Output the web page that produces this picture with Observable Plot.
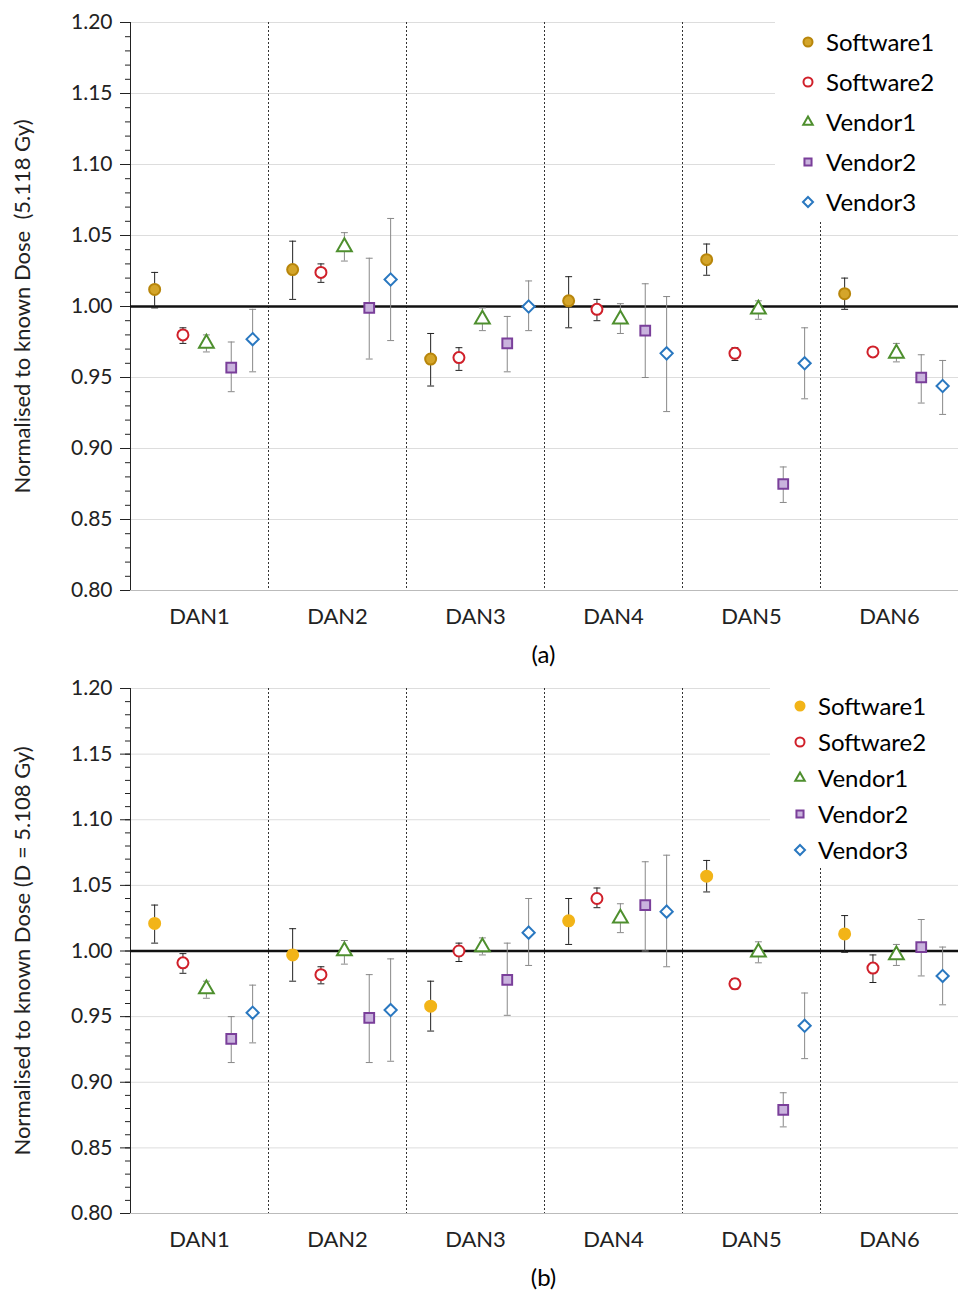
<!DOCTYPE html>
<html><head><meta charset="utf-8">
<script src="https://cdn.jsdelivr.net/npm/d3@7"></script>
<script src="https://cdn.jsdelivr.net/npm/@observablehq/plot@0.6"></script>
<style>
body{margin:0;background:#fff;font-family:Lato,"Open Sans",sans-serif}
.panel{position:relative;width:962px;height:auto}
.panel svg{display:block}
.cap{text-align:center;font-size:24px;padding-left:125px;height:28px;line-height:28px}
.legend{position:absolute;background:#fff;font-size:24px;line-height:40px}
.legend div{display:flex;align-items:center}
.legend svg{margin-right:10px}
</style></head><body>
<div id="a" class="panel"></div><div class="cap">(a)</div>
<div id="b" class="panel"></div><div class="cap">(b)</div>
<script>
const groups = ["DAN1","DAN2","DAN3","DAN4","DAN5","DAN6"]
const series = ["Software1","Software2","Vendor1","Vendor2","Vendor3"]
const offsets = [0.175, 0.38, 0.55, 0.73, 0.885]
// [value, low, high] per group, per series
const panelA = [
  [[1.012,0.999,1.024],[0.980,0.974,0.985],[0.974,0.968,0.980],[0.957,0.940,0.975],[0.977,0.954,0.998]],
  [[1.026,1.005,1.046],[1.024,1.017,1.030],[1.042,1.032,1.052],[0.999,0.963,1.034],[1.019,0.976,1.062]],
  [[0.963,0.944,0.981],[0.964,0.955,0.971],[0.991,0.983,0.999],[0.974,0.954,0.993],[1.000,0.983,1.018]],
  [[1.004,0.985,1.021],[0.998,0.990,1.005],[0.991,0.981,1.002],[0.983,0.950,1.016],[0.967,0.926,1.007]],
  [[1.033,1.022,1.044],[0.967,0.962,0.971],[0.998,0.991,1.004],[0.875,0.862,0.887],[0.960,0.935,0.985]],
  [[1.009,0.998,1.020],[0.968,0.965,0.970],[0.967,0.961,0.974],[0.950,0.932,0.966],[0.944,0.924,0.962]]
]
const panelB = [
  [[1.021,1.006,1.035],[0.991,0.983,0.998],[0.971,0.964,0.977],[0.933,0.915,0.950],[0.953,0.930,0.974]],
  [[0.997,0.977,1.017],[0.982,0.975,0.988],[1.000,0.990,1.008],[0.949,0.915,0.982],[0.955,0.916,0.994]],
  [[0.958,0.939,0.977],[1.000,0.992,1.006],[1.003,0.997,1.010],[0.978,0.951,1.006],[1.014,0.989,1.040]],
  [[1.023,1.005,1.040],[1.040,1.033,1.048],[1.025,1.014,1.036],[1.035,1.000,1.068],[1.030,0.988,1.073]],
  [[1.057,1.045,1.069],[0.975,0.971,0.979],[0.999,0.991,1.007],[0.879,0.866,0.892],[0.943,0.918,0.968]],
  [[1.013,0.999,1.027],[0.987,0.976,0.997],[0.997,0.989,1.005],[1.003,0.981,1.024],[0.981,0.959,1.003]]
]
const symbols = ["circle","circle","triangle","square","diamond2"]
const strokes = ["#b8860b","#d0202a","#4e8f2e","#7a3f9a","#2a78c0"]
const fillsA = ["#d4a52a","#fff","#fff","#c9b3dd","#fff"]
const fillsB = ["#f2b418","#fff","#fff","#c9b3dd","#fff"]
const errColors = ["#222","#222","#888","#888","#888"]
const yTicks = d3.range(0.80, 1.2001, 0.05)

function panel(sel, values, fills, ylabel, height, mTop, legendPos, s1stroke) {
  const rows = []
  values.forEach((g, i) => g.forEach((v, j) => rows.push({
    x: i + offsets[j], y: v[0], lo: v[1], hi: v[2], s: j
  })))
  const chart = Plot.plot({
    width: 962, height, marginLeft: 130, marginRight: 4, marginTop: mTop, marginBottom: 50,
    style: {fontFamily: "Lato, 'Open Sans', sans-serif", fontSize: "21px", color: "#222"},
    x: {domain: [0, 6], axis: null},
    y: {domain: [0.8, 1.2], axis: null},
    marks: [
      Plot.ruleY(yTicks, {stroke: "#ddd"}),
      Plot.ruleX([1,2,3,4,5], {stroke: "#333", strokeDasharray: "2,2"}),
      Plot.ruleX([0], {stroke: "#222"}),
      Plot.ruleY([0.8], {stroke: "#bbb"}),
      Plot.ruleY([1], {stroke: "#111", strokeWidth: 2.5}),
      Plot.axisY({ticks: d3.range(0.8, 1.2001, 0.01), tickSize: 5, tickFormat: null, text: null}),
      Plot.axisY({ticks: yTicks, tickSize: 10, tickFormat: ".2f", tickPadding: 8, label: null, fontSize: 21}),
      Plot.text(groups, {x: (d, i) => i + 0.5, frameAnchor: "bottom", dy: 33, text: d => d, fontSize: 22}),
      Plot.text([ylabel], {frameAnchor: "left", dx: -108, rotate: -90, textAnchor: "middle", text: d => d, fontSize: 22}),
      Plot.ruleX(rows, {x: "x", y1: "lo", y2: "hi", stroke: d => errColors[d.s]}),
      ...["lo", "hi"].map(k => Plot.link(rows, {x1: d => d.x - 0.025, x2: d => d.x + 0.025, y1: k, y2: k, stroke: d => errColors[d.s]})),
      Plot.dot(rows, {x: "x", y: "y", symbol: d => symbols[d.s], r: 5.5, strokeWidth: 2,
        stroke: d => d.s === 0 ? s1stroke : strokes[d.s], fill: d => fills[d.s]})
    ]
  })
  const el = document.querySelector(sel)
  el.append(chart)
  const leg = document.createElement("div")
  leg.className = "legend"
  Object.assign(leg.style, legendPos)
  const legSym = [d3.symbolCircle, d3.symbolCircle2, d3.symbolTriangle2, d3.symbolSquare2, d3.symbolDiamond2]
  series.forEach((name, j) => {
    const row = document.createElement("div")
    const sym = d3.create("svg").attr("width", 16).attr("height", 16)
    sym.append("path").attr("transform", "translate(8,8)")
      .attr("d", d3.symbol(legSym[j], 64)())
      .attr("stroke", j === 0 ? s1stroke : strokes[j]).attr("stroke-width", 2).attr("fill", fills[j])
    row.append(sym.node())
    row.append(name)
    leg.append(row)
  })
  el.append(leg)
}
panel("#a", panelA, fillsA, "Normalised to known Dose  (5.118 Gy)", 640, 22, {left: "775px", top: "22px", width: "180px", paddingLeft: "25px"}, "#b8860b")
panel("#b", panelB, fillsB, "Normalised to known Dose (D = 5.108 Gy)", 595, 20, {left: "770px", top: "20px", width: "185px", paddingLeft: "22px", lineHeight: "36px"}, "#f2b418")
</script>
</body></html>
